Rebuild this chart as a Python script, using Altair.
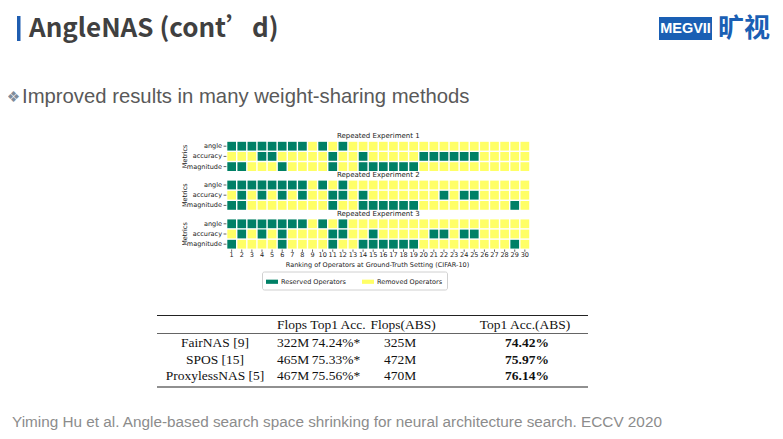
import altair as alt
import pandas as pd

# ---------------- data ----------------
ranks = list(range(1, 31))
metrics = ["angle", "accuracy", "magnitude"]
experiments = ["Repeated Experiment 1", "Repeated Experiment 2", "Repeated Experiment 3"]

exp1_angle = [1, 2, 3, 4, 5, 6, 7, 8, 10, 12]
exp1_accuracy = [4, 5, 11, 14, 20, 21, 22, 23, 24, 25]
exp1_magnitude = [1, 2, 6, 11, 14, 15, 16, 17, 18, 19]
exp2_angle = [1, 2, 3, 4, 5, 6, 7, 8, 10, 12]
exp2_accuracy = [2, 4, 6, 8, 11, 12, 14, 22, 24, 25]
exp2_magnitude = [1, 2, 11, 14, 15, 16, 17, 18, 19, 29]
exp3_angle = [1, 2, 3, 4, 5, 6, 7, 8, 10, 12]
exp3_accuracy = [2, 4, 6, 11, 12, 15, 21, 22, 24, 25]
exp3_magnitude = [1, 6, 11, 14, 15, 16, 17, 18, 19, 29]

status_labels = ["Reserved Operators", "Removed Operators"]
status_colors = ["#008066", "#ffff66"]

x_title = "Ranking of Operators at Ground-Truth Setting (CIFAR-10)"
y_title = "Metrics"

methods = ["FairNAS [9]", "SPOS [15]", "ProxylessNAS [5]"]
headers = ["Flops", "Top1 Acc.", "Flops(ABS)", "Top1 Acc.(ABS)"]
flops = ["322M", "465M", "467M"]
top1 = ["74.24%*", "75.33%*", "75.56%*"]
flops_abs = ["325M", "472M", "470M"]
top1_abs = ["74.42%", "75.97%", "76.14%"]

slide_title = "AngleNAS (cont’d)"
bullet_text = "Improved results in many weight-sharing methods"
footer_text = "Yiming Hu et al. Angle-based search space shrinking for neural architecture search. ECCV 2020"

reserved = [
    {"angle": exp1_angle, "accuracy": exp1_accuracy, "magnitude": exp1_magnitude},
    {"angle": exp2_angle, "accuracy": exp2_accuracy, "magnitude": exp2_magnitude},
    {"angle": exp3_angle, "accuracy": exp3_accuracy, "magnitude": exp3_magnitude},
]

# ---------------- layout ----------------
W, H = 767, 423
X_RANGE = [218.6, 521.9]
Y_RANGES = [[133.1, 163.7], [171.9, 202.5], [210.7, 241.3]]
TITLE_Y = [127.5, 166.5, 205.5]
MPL_FONT = "DejaVu Sans"
SERIF = "Liberation Serif"
TFS = 13.5

one = pd.DataFrame({"k": [0]})


def xenc():
    return alt.X("rank:O", scale=alt.Scale(type="band", domain=ranks, range=X_RANGE,
                                           paddingInner=0.14, paddingOuter=0.07), axis=None)


def yenc(i):
    return alt.Y("metric:N", scale=alt.Scale(type="band", domain=metrics, range=Y_RANGES[i],
                                             paddingInner=0.14, paddingOuter=0.07), axis=None)


layers = []

# heatmap panels
for i, exp in enumerate(experiments):
    rows = []
    for m in metrics:
        for r in ranks:
            rows.append({"rank": r, "metric": m,
                         "status": status_labels[0] if r in reserved[i][m] else status_labels[1]})
    df = pd.DataFrame(rows)
    cells = alt.Chart(df).mark_rect().encode(
        x=xenc(), y=yenc(i),
        color=alt.Color("status:N", scale=alt.Scale(domain=status_labels, range=status_colors),
                        legend=alt.Legend(title=None, orient="none", legendX=254, legendY=263.5,
                                          direction="horizontal", columns=2,
                                          symbolType="M-1,-0.35H1V0.35H-1Z", symbolSize=144,
                                          symbolStrokeWidth=0, symbolOpacity=1,
                                          labelFont=MPL_FONT, labelFontSize=6.5, labelColor="#222222",
                                          labelOffset=3, columnPadding=16, padding=4,
                                          strokeColor="#d0d0d0", fillColor="white", cornerRadius=2)),
    )
    layers.append(cells)
    mdf = pd.DataFrame({"metric": metrics})
    layers.append(alt.Chart(mdf).mark_text(align="right", baseline="middle", font=MPL_FONT,
                                           fontSize=6.5, color="#222222").encode(
        x=alt.value(214), y=yenc(i), text="metric:N"))
    layers.append(alt.Chart(mdf).mark_rule(color="#222222", strokeWidth=0.7).encode(
        x=alt.value(215.6), x2=alt.value(218.4), y=yenc(i)))
    layers.append(alt.Chart(pd.DataFrame({"t": [exp]})).mark_text(
        font=MPL_FONT, fontSize=7, color="#222222", baseline="middle").encode(
        x=alt.value(370.3), y=alt.value(TITLE_Y[i]), text="t:N"))
    layers.append(alt.Chart(pd.DataFrame({"t": [y_title]})).mark_text(
        font=MPL_FONT, fontSize=6.5, color="#222222", angle=270, baseline="middle").encode(
        x=alt.value(176.5), y=alt.value((Y_RANGES[i][0] + Y_RANGES[i][1]) / 2), text="t:N"))

rdf = pd.DataFrame({"rank": ranks})
layers.append(alt.Chart(rdf).mark_rule(color="#222222", strokeWidth=0.7).encode(
    x=xenc(), y=alt.value(241.5), y2=alt.value(243.8)))
layers.append(alt.Chart(rdf).mark_text(font=MPL_FONT, fontSize=6.5, color="#222222",
                                       baseline="middle").encode(
    x=xenc(), y=alt.value(247.0), text="rank:O"))
layers.append(alt.Chart(pd.DataFrame({"t": [x_title]})).mark_text(
    font=MPL_FONT, fontSize=6.5, color="#222222", baseline="middle").encode(
    x=alt.value(369.5), y=alt.value(257.0), text="t:N"))

# ---------------- slide elements ----------------
layers.append(alt.Chart(one).mark_rect(color="#1f5db0").encode(
    x=alt.value(9), x2=alt.value(12.5), y=alt.value(8), y2=alt.value(33)))
layers.append(alt.Chart(pd.DataFrame({"t": [slide_title]})).mark_text(
    font="Noto Sans CJK SC", fontWeight="bold", fontSize=26, color="#404040",
    align="left", baseline="middle").encode(x=alt.value(21), y=alt.value(21), text="t:N"))

layers.append(alt.Chart(one).mark_rect(color="#1a5fb4").encode(
    x=alt.value(651), x2=alt.value(704), y=alt.value(9), y2=alt.value(32)))
layers.append(alt.Chart(pd.DataFrame({"t": ["MEGVII"]})).mark_text(
    font="Liberation Sans", fontWeight="bold", fontSize=14.5, color="white",
    align="center", baseline="middle").encode(x=alt.value(677.5), y=alt.value(21), text="t:N"))
layers.append(alt.Chart(pd.DataFrame({"t": ["旷视"]})).mark_text(
    font="Noto Sans CJK SC", fontWeight="bold", fontSize=26, color="#1a5fb4",
    align="center", baseline="middle").encode(x=alt.value(736), y=alt.value(21), text="t:N"))

layers.append(alt.Chart(pd.DataFrame({"t": ["❖"]})).mark_text(
    font="DejaVu Sans", fontSize=15, color="#7f8c9a", align="center", baseline="middle").encode(
    x=alt.value(5.5), y=alt.value(89), text="t:N"))
layers.append(alt.Chart(pd.DataFrame({"t": [bullet_text]})).mark_text(
    font="Liberation Sans", fontSize=20.3, color="#595959", align="left", baseline="middle").encode(
    x=alt.value(14), y=alt.value(89), text="t:N"))

layers.append(alt.Chart(pd.DataFrame({"t": [footer_text]})).mark_text(
    font="Liberation Sans", fontSize=15.3, color="#8c8c8c", align="left", baseline="middle").encode(
    x=alt.value(4), y=alt.value(414), text="t:N"))

# ---------------- table ----------------
TROW = [335, 368]
head_x = [284, 330, 395, 517]
layers.append(alt.Chart(one).mark_rule(color="#222222", strokeWidth=1.2).encode(
    x=alt.value(149), x2=alt.value(580), y=alt.value(307.5)))
layers.append(alt.Chart(one).mark_rule(color="#222222", strokeWidth=0.7).encode(
    x=alt.value(149), x2=alt.value(580), y=alt.value(325.5)))
layers.append(alt.Chart(one).mark_rule(color="#222222", strokeWidth=1.2).encode(
    x=alt.value(149), x2=alt.value(580), y=alt.value(379)))
for h, cx in zip(headers, head_x):
    layers.append(alt.Chart(pd.DataFrame({"t": [h]})).mark_text(
        font=SERIF, fontSize=TFS, color="#111111", baseline="middle").encode(
        x=alt.value(cx), y=alt.value(317), text="t:N"))

tdf = pd.DataFrame({"method": methods, "flops": flops, "top1": top1,
                    "flops_abs": flops_abs, "top1_abs": top1_abs})


def tyenc():
    return alt.Y("method:N", scale=alt.Scale(type="point", domain=methods, range=TROW, padding=0),
                 axis=None)


layers.append(alt.Chart(tdf).mark_text(font=SERIF, fontSize=TFS, color="#111111",
                                       baseline="middle").encode(
    x=alt.value(207), y=tyenc(), text="method:N"))
for field, cx, wt in [("flops", 285, "normal"), ("top1", 328, "normal"),
                      ("flops_abs", 392, "normal"), ("top1_abs", 519, "bold")]:
    layers.append(alt.Chart(tdf).mark_text(font=SERIF, fontSize=TFS, color="#111111",
                                           fontWeight=wt, baseline="middle").encode(
        x=alt.value(cx), y=tyenc(), text=f"{field}:N"))

chart = alt.layer(*layers).properties(
    width=W, height=H, autosize=alt.AutoSizeParams(type="none"), padding=0,
    background="white",
).resolve_scale(x="independent", y="independent", color="shared").configure_view(stroke=None)

chart.save("out.html", embed_options={"renderer": "svg", "actions": False})
